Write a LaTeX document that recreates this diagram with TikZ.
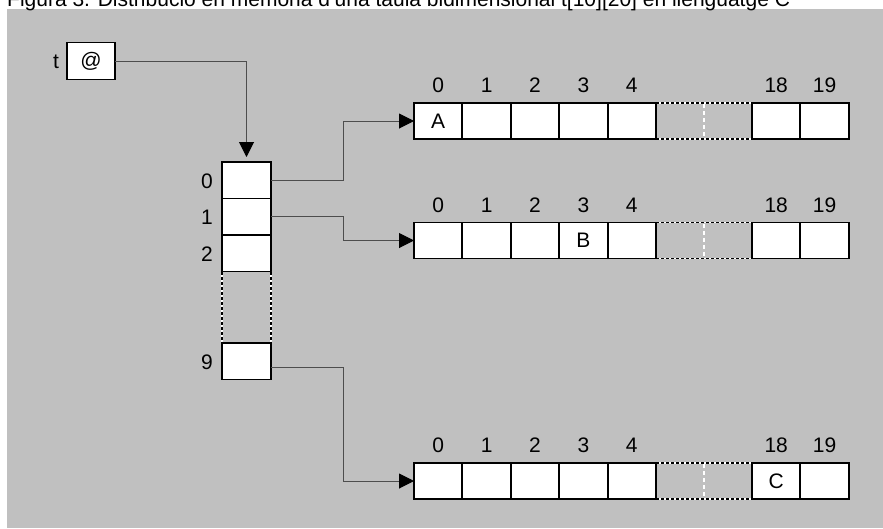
\documentclass[tikz,border=0pt]{standalone}
\usepackage{fontspec}
\setmainfont{Liberation Sans}
\usetikzlibrary{arrows.meta}
\definecolor{bgc}{HTML}{C0C0C0}
\definecolor{connc}{HTML}{4D4D4D}
\begin{document}
\begin{tikzpicture}[x=1pt,y=-1pt,
  cell/.style={draw=black, line width=1.9pt, fill=white, minimum width=48.4pt, minimum height=36pt, inner sep=0pt, outer sep=0pt, font=\fontsize{21}{25}\selectfont},
  colcell/.style={cell, minimum width=49pt, minimum height=36.5pt},
  lbl/.style={inner sep=0pt, font=\fontsize{21}{25}\selectfont},
  conn/.style={draw=connc, line width=1pt},
  arrowend/.style={-{Triangle[length=15pt,width=15pt,black]}},
  dotb/.style={black, line width=1.9pt, dash pattern=on 3pt off 2pt},
  dotw/.style={white, line width=1.9pt},
  midw/.style={white, line width=1.5pt, dash pattern=on 4pt off 3pt},
]
\useasboundingbox (0,0) rectangle (883,528);
\fill[bgc] (7,8.5) rectangle (883,528);
\node[anchor=base west, inner sep=0pt, font=\fontsize{21}{25}\selectfont] (title) at (7,6) {Figura 3. Distribució en memòria d'una taula bidimensional t[10][20] en llenguatge C};

% pointer t
\node[cell, minimum width=48pt, minimum height=37pt] (tbox) at (91,61) {@};
\node[lbl] (tl) at (56,62) {t};

% column of row pointers
\node[colcell] (c0) at (246.5,180.25) {};
\node[colcell] (c1) at (246.5,216.75) {};
\node[colcell] (c2) at (246.5,253.25) {};
\node[colcell] (c9) at (246.5,361.25) {};
\draw[dotw] (c2.south west) -- (c9.north west);
\draw[dotb] (c2.south west) -- (c9.north west);
\draw[dotw] (c2.south east) -- (c9.north east);
\draw[dotb] (c2.south east) -- (c9.north east);
\node[lbl] (l0) at (207,181) {0};
\node[lbl] (l1) at (207,217) {1};
\node[lbl] (l2) at (207,254) {2};
\node[lbl] (l9) at (207,362) {9};

% rows
\foreach \r/\y in {1/121, 2/240.5, 3/481} {
  \foreach \k/\x in {0/438.2,1/486.6,2/535,3/583.4,4/631.8,18/776.2,19/824.6} {
    \node[cell] (r\r c\k) at (\x,\y) {};
    \node[lbl] (r\r l\k) at (\x,\y-35.5) {\k};
  }
  \draw[dotw] (r\r c4.north east) -- (r\r c18.north west);
  \draw[dotb] (r\r c4.north east) -- (r\r c18.north west);
  \draw[dotw] (r\r c4.south east) -- (r\r c18.south west);
  \draw[dotb] (r\r c4.south east) -- (r\r c18.south west);
  \draw[midw] (704,\y-17) -- (704,\y+17);
}
\node[lbl] (A) at (r1c0) {A};
\node[lbl] (B) at (r2c3) {B};
\node[lbl] (C) at (r3c18) {C};

% connectors
\draw[conn, arrowend, shorten >=5pt] (tbox.east) -| (c0.north);
\draw[conn, arrowend] (c0.east) -- ++(72,0) |- (r1c0.west);
\draw[conn, arrowend] (c1.east) -- ++(72,0) |- (r2c0.west);
\draw[conn, arrowend] ([yshift=-6.5pt]c9.east) -- ++(72,0) |- (r3c0.west);
\end{tikzpicture}
\end{document}
